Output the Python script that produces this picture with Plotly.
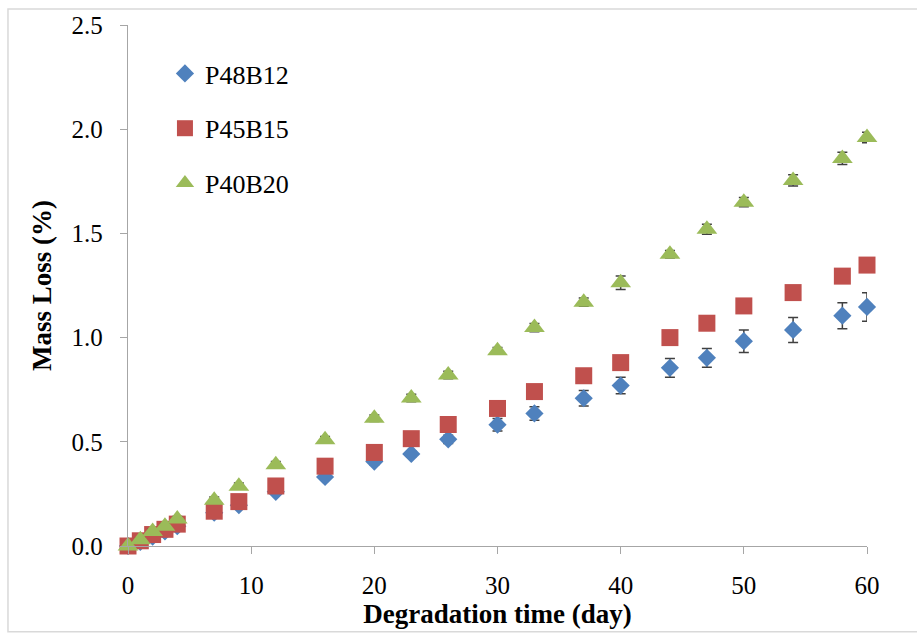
import plotly.graph_objects as go

days = [0, 1, 2, 3, 4, 7, 9, 12, 16, 20, 23, 26, 30, 33, 37, 40, 44, 47, 50, 54, 58, 60]

p48b12 = [0.0, 0.02, 0.045, 0.07, 0.095, 0.16, 0.196, 0.26, 0.331, 0.405, 0.442, 0.512,
          0.582, 0.636, 0.709, 0.77, 0.855, 0.903, 0.983, 1.037, 1.105, 1.147]
p48b12_err = [0.005, 0.006, 0.006, 0.007, 0.008, 0.008, 0.008, 0.01, 0.012, 0.015, 0.015, 0.02,
              0.03, 0.032, 0.037, 0.04, 0.045, 0.045, 0.054, 0.06, 0.062, 0.068]

p45b15 = [0.0, 0.025, 0.055, 0.08, 0.105, 0.167, 0.213, 0.288, 0.383, 0.449, 0.515, 0.583,
          0.66, 0.741, 0.817, 0.88, 1.0, 1.069, 1.152, 1.216, 1.295, 1.348]
p45b15_err = [0.005, 0.005, 0.005, 0.006, 0.006, 0.007, 0.007, 0.008, 0.008, 0.01, 0.01, 0.01,
              0.01, 0.01, 0.01, 0.012, 0.012, 0.012, 0.012, 0.012, 0.012, 0.012]

p40b20 = [0.0, 0.03, 0.07, 0.095, 0.13, 0.22, 0.287, 0.39, 0.51, 0.613, 0.71, 0.82,
          0.937, 1.048, 1.17, 1.263, 1.40, 1.52, 1.65, 1.754, 1.86, 1.96]
p40b20_err = [0.01, 0.01, 0.01, 0.012, 0.012, 0.015, 0.015, 0.016, 0.016, 0.016, 0.018, 0.018,
              0.016, 0.02, 0.02, 0.032, 0.018, 0.024, 0.022, 0.027, 0.029, 0.025]

series = [
    ("P48B12", p48b12, p48b12_err, "diamond", 14, "#4F81BD"),
    ("P45B15", p45b15, p45b15_err, "square", 17, "#C0504D"),
    ("P40B20", p40b20, p40b20_err, "triangle-up", 18, "#9BBB59"),
]

FONT = "Liberation Serif"

fig = go.Figure()
for i, (name, vals, errs, sym, size, col) in enumerate(series):
    fig.add_trace(go.Scatter(
        x=days, y=vals, name=name, mode="markers",
        legendgroup=f"g{i}",
        marker=dict(symbol=sym, size=size, color=col, line=dict(width=0)),
        error_y=dict(type="data", array=errs, visible=True, color="#404040",
                     thickness=1.5, width=5),
        cliponaxis=False,
    ))

# light chart-area border
fig.add_shape(type="rect", xref="paper", yref="paper",
              x0=-0.1624, x1=1.075, y0=-0.1644, y1=1.0306,
              line=dict(color="#D9D9D9", width=1.5), fillcolor="rgba(0,0,0,0)", layer="below")

fig.update_layout(
    width=917, height=635,
    margin=dict(l=128, r=50, t=23, b=89, pad=0),
    paper_bgcolor="white", plot_bgcolor="white",
    font=dict(family=FONT, color="black", size=24),
    showlegend=True,
    legend=dict(x=0.05, y=0.952, xanchor="left", yanchor="top",
                font=dict(family=FONT, size=26, color="black"),
                traceorder="grouped", tracegroupgap=18,
                bgcolor="rgba(0,0,0,0)", itemwidth=30),
    xaxis=dict(
        range=[0, 60], tickmode="linear", tick0=0, dtick=10,
        showgrid=False, zeroline=False,
        showline=True, linecolor="#A6A6A6", linewidth=1.3,
        ticks="outside", ticklen=7, tickcolor="#A6A6A6", tickwidth=1.3,
        tickfont=dict(family=FONT, size=25, color="black"),
        ticklabelstandoff=10,
        title=dict(text="<b>Degradation time (day)</b>", font=dict(family=FONT, size=27, color="black"),
                   standoff=3),
    ),
    yaxis=dict(
        range=[0, 2.5], tickmode="linear", tick0=0, dtick=0.5, tickformat=".1f",
        showgrid=False, zeroline=False,
        showline=True, linecolor="#A6A6A6", linewidth=1.3,
        ticks="outside", ticklen=7, tickcolor="#A6A6A6", tickwidth=1.3,
        tickfont=dict(family=FONT, size=25, color="black"),
        ticklabelstandoff=12,
        title=dict(text="<b>Mass Loss (%)</b>", font=dict(family=FONT, size=27, color="black"),
                   standoff=12),
    ),
)

fig.write_html("out.html")
